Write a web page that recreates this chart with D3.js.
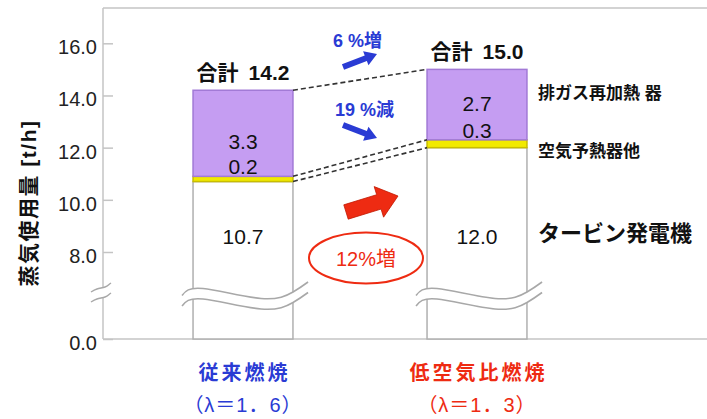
<!DOCTYPE html>
<html>
<head>
<meta charset="utf-8">
<script src="https://cdn.jsdelivr.net/npm/d3@7"></script>
<style>
  html, body { margin: 0; padding: 0; background: #fff; }
  svg { display: block; }
  text { font-family: "Liberation Sans", "Noto Sans CJK JP", sans-serif; }
</style>
</head>
<body>
<svg id="chart" width="707" height="419"></svg>
<script>
// Steam consumption by purpose, conventional vs. low-air-ratio combustion
const categories = ["従来燃焼", "低空気比燃焼"];
const lambdaLabels = ["（λ＝1．6）", "（λ＝1．3）"];
const turbine = [10.7, 12.0];          // タービン発電機
const airPreheater = [0.2, 0.3];       // 空気予熱器他
const exhaustReheater = [3.3, 2.7];    // 排ガス再加熱器
const totals = [14.2, 15.0];
const yTicks = [0, 8, 10, 12, 14, 16];
const seriesKeys = ["turbine", "air", "exhaust"];
const seriesNames = ["タービン発電機", "空気予熱器他", "排ガス再加熱 器"];
const changeLabels = ["6 %増", "19 %減", "12%増"];

const W = 707, H = 419;
const plotLeft = 103, plotTop = 8, plotBottom = 339;

const svg = d3.select("#chart");

// broken axis: 0–8 compressed, 8–16 linear
const y = d3.scaleLinear().domain([0, 8, 16]).range([plotBottom, 252, 43.3]);
const x = d3.scaleBand().domain(categories)
  .range([126, 594]).paddingInner(0.573).paddingOuter(0.2865);
const bw = x.bandwidth();

const rows = categories.map((c, i) => ({
  cat: c, turbine: turbine[i], air: airPreheater[i], exhaust: exhaustReheater[i]
}));
const stacked = d3.stack().keys(seriesKeys)(rows);

const fills = { turbine: "#ffffff", air: "#f2ea00", exhaust: "#c59df2" };
const strokes = { turbine: "#b0b0b0", air: "#c9bd00", exhaust: "#a27ad6" };

// frame
svg.append("line").attr("x1", plotLeft).attr("x2", W).attr("y1", plotTop).attr("y2", plotTop)
  .attr("stroke", "#c4c4c4").attr("stroke-width", 1.5);
svg.append("line").attr("x1", plotLeft).attr("x2", W).attr("y1", plotBottom).attr("y2", plotBottom)
  .attr("stroke", "#c4c4c4").attr("stroke-width", 1.5);
svg.append("line").attr("x1", plotLeft).attr("x2", plotLeft).attr("y1", plotTop).attr("y2", plotBottom)
  .attr("stroke", "#c4c4c4").attr("stroke-width", 1.5);

// y axis ticks and labels
const yAxis = d3.axisLeft(y).tickValues(yTicks).tickSize(-10).tickPadding(6)
  .tickFormat(d3.format(".1f"));
const ag = svg.append("g").attr("transform", `translate(${plotLeft},0)`).call(yAxis);
ag.select(".domain").remove();
ag.selectAll(".tick line").attr("stroke", "#c4c4c4").attr("stroke-width", 1.5);
ag.selectAll(".tick text").attr("font-size", 20).attr("fill", "#222")
  .attr("font-family", "Liberation Sans, Arial, sans-serif")
  .attr("transform", "translate(0,4)");

// bars
const bars = svg.append("g");
stacked.forEach(s => {
  bars.selectAll(null).data(s).join("rect")
    .attr("x", d => x(d.data.cat))
    .attr("width", bw)
    .attr("y", d => y(d[1]))
    .attr("height", d => y(d[0]) - y(d[1]))
    .attr("fill", fills[s.key])
    .attr("stroke", strokes[s.key])
    .attr("stroke-width", 1.5);
});

// break marks across the bars and on the axis
const breakY = 295;
const waveLine = d3.line().curve(d3.curveNatural);
function breakMark(x0, pts, gap, sw) {
  const topPts = pts.map(p => [x0 + p[0], breakY + p[1]]);
  const lowPts = topPts.map(p => [p[0], p[1] + gap]);
  const band = waveLine(topPts) + "L" + waveLine(lowPts.slice().reverse()).slice(1) + "Z";
  svg.append("path").attr("d", band).attr("fill", "#fff").attr("stroke", "none");
  [topPts, lowPts].forEach(p => svg.append("path").attr("d", waveLine(p))
    .attr("fill", "none").attr("stroke", "#a8a8a8").attr("stroke-width", sw));
}
const wave = [[-11, 0.5], [10, -6.5], [68, 3.5], [100, -3], [115, -13]];
categories.forEach(c => breakMark(x(c), wave, 10.5, 1.6));
breakMark(plotLeft, [[-12, -3], [-6, -6], [2, -8], [6, -10.5], [8, -12]], 10, 1.4);

// connecting dashed lines
const xl = x(categories[0]) + bw, xr = x(categories[1]);
const dashes = [
  [totals[0], totals[1]],
  [turbine[0] + airPreheater[0], turbine[1] + airPreheater[1]],
  [turbine[0], turbine[1]]
];
svg.append("g").selectAll("line").data(dashes).join("line")
  .attr("x1", xl).attr("x2", xr)
  .attr("y1", d => y(d[0])).attr("y2", d => y(d[1]))
  .attr("stroke", "#333").attr("stroke-width", 1.6).attr("stroke-dasharray", "5,3");

// value labels inside the bars
const lbl = svg.append("g").attr("fill", "#111").attr("text-anchor", "middle");
categories.forEach((c, i) => {
  const cx = x(c) + bw / 2;
  lbl.append("text").attr("x", cx).attr("y", 244).attr("font-size", 21)
    .text(turbine[i].toFixed(1));
  lbl.append("text").attr("x", cx).attr("y", y(turbine[i] + airPreheater[i]) - 2)
    .attr("font-size", 21).text(airPreheater[i].toFixed(1));
  lbl.append("text").attr("x", cx)
    .attr("y", y(turbine[i] + airPreheater[i] + exhaustReheater[i] / 2) + 16 - (i ? 10 : 0))
    .attr("font-size", 21).text(exhaustReheater[i].toFixed(1));
  const t = lbl.append("text").attr("x", cx).attr("y", y(totals[i]) - 10)
    .attr("font-size", 21).attr("font-weight", 700);
  t.append("tspan").text("合計");
  t.append("tspan").attr("dx", 10).text(totals[i].toFixed(1));
});

// series labels to the right of the bars
const rx = xr + bw + 11;
const rl = svg.append("g").attr("fill", "#111").attr("font-weight", 700);
rl.append("text").attr("x", rx).attr("y", 99).attr("font-size", 17).text(seriesNames[2]);
rl.append("text").attr("x", rx).attr("y", 157).attr("font-size", 17).text(seriesNames[1]);
rl.append("text").attr("x", rx).attr("y", 241).attr("font-size", 22).text(seriesNames[0]);

// arrows
function arrow(x0, y0, x1, y1, sw, hw, hl) {
  const dx = x1 - x0, dy = y1 - y0, L = Math.hypot(dx, dy);
  const ux = dx / L, uy = dy / L, nx = -uy, ny = ux;
  const bx = x1 - ux * hl, by = y1 - uy * hl;
  const p = [
    [x0 + nx * sw / 2, y0 + ny * sw / 2],
    [bx + nx * sw / 2, by + ny * sw / 2],
    [bx + nx * hw / 2, by + ny * hw / 2],
    [x1, y1],
    [bx - nx * hw / 2, by - ny * hw / 2],
    [bx - nx * sw / 2, by - ny * sw / 2],
    [x0 - nx * sw / 2, y0 - ny * sw / 2]
  ];
  return "M" + p.map(q => q.join(",")).join("L") + "Z";
}
const gx = (xl + xr) / 2;
const blue = "#2a3bd4", red = "#ee2b12";
svg.append("path").attr("d", arrow(gx - 17, 67, gx + 17, 54, 6, 15, 12)).attr("fill", blue);
svg.append("path").attr("d", arrow(gx - 17, 125, gx + 17, 138, 6, 15, 12)).attr("fill", blue);
svg.append("path").attr("d", arrow(gx - 14, 212, gx + 38, 196, 15, 32, 20))
  .attr("fill", red).attr("stroke", "#c01800").attr("stroke-width", 0.8);

const cl = svg.append("g").attr("font-weight", 700).attr("font-size", 18);
cl.append("text").attr("x", gx - 27).attr("y", 47).attr("fill", blue).text(changeLabels[0]);
cl.append("text").attr("x", gx - 25).attr("y", 116).attr("fill", blue).text(changeLabels[1]);

svg.append("ellipse").attr("cx", gx + 6).attr("cy", 258).attr("rx", 57).attr("ry", 25.5)
  .attr("fill", "none").attr("stroke", red).attr("stroke-width", 2);
svg.append("text").attr("x", gx + 6).attr("y", 266).attr("text-anchor", "middle")
  .attr("font-size", 20).attr("fill", red).text(changeLabels[2]);

// category labels
const colors = [blue, red];
categories.forEach((c, i) => {
  const cx = x(c) + bw / 2;
  svg.append("text").attr("x", cx + 1.5).attr("y", 380).attr("text-anchor", "middle")
    .attr("font-size", 20).attr("font-weight", 700).attr("letter-spacing", 3)
    .attr("fill", colors[i]).text(c);
  svg.append("text").attr("x", cx).attr("y", 412).attr("text-anchor", "middle")
    .attr("font-size", 20).attr("letter-spacing", 1).attr("fill", colors[i]).text(lambdaLabels[i]);
});

// y-axis title
svg.append("text").attr("transform", "translate(36,203) rotate(-90)")
  .attr("text-anchor", "middle").attr("font-size", 21).attr("font-weight", 700)
  .attr("letter-spacing", 1.5).attr("fill", "#111").text("蒸気使用量 [t/h]");
</script>
</body>
</html>
